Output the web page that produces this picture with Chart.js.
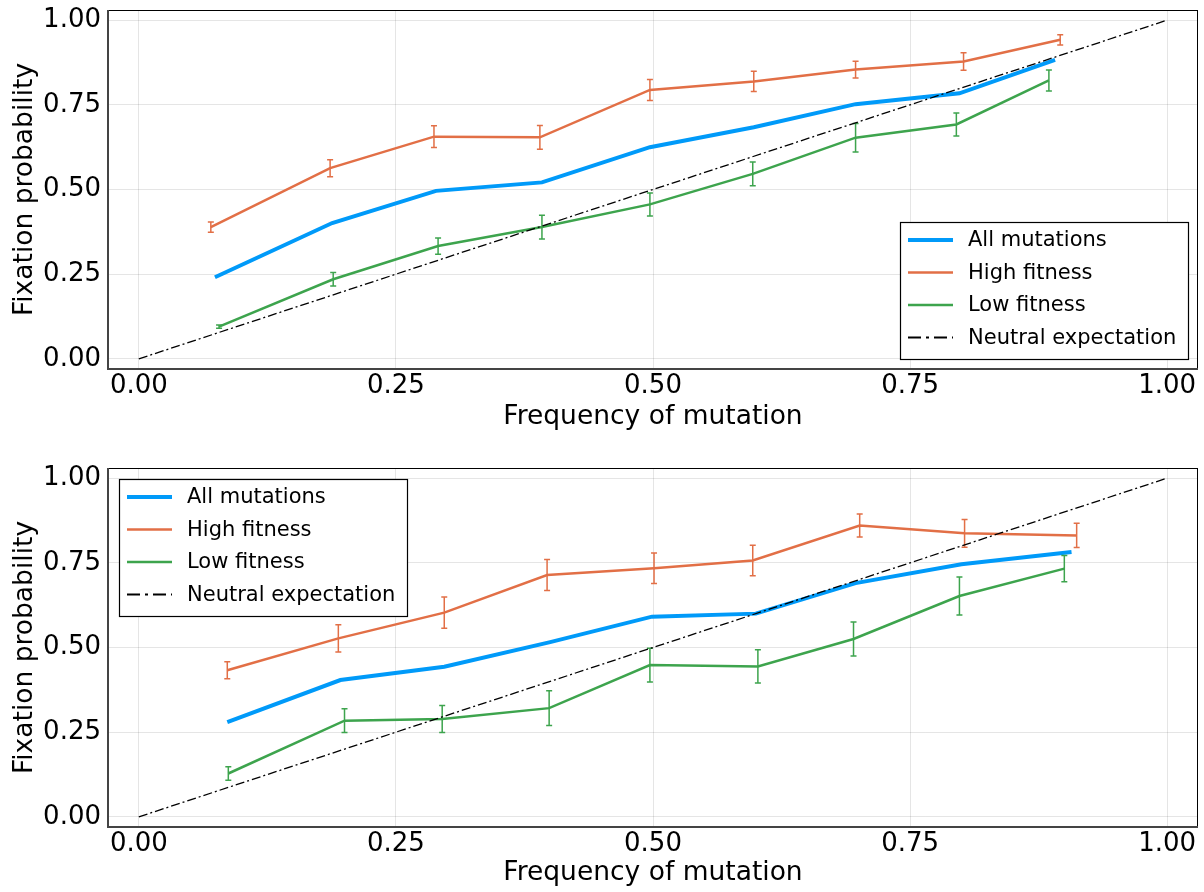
<!DOCTYPE html>
<html>
<head>
<meta charset="utf-8">
<script src="https://cdn.jsdelivr.net/npm/chart.js@4"></script>
<style>
  body { margin: 0; background: #fff; }
  canvas { display: block; }
</style>
</head>
<body>
<canvas id="topChart" width="1204" height="446"></canvas>
<canvas id="bottomChart" width="1204" height="446"></canvas>
<script>
// tick positions / labels (both axes)
const tickValues = [0, 0.25, 0.5, 0.75, 1];
const tickLabels = ["0.00", "0.25", "0.50", "0.75", "1.00"];

const seriesNames = ["All mutations", "High fitness", "Low fitness", "Neutral expectation"];
const neutralX = [0, 1];
const neutralY = [0, 1];

// top panel
const topAllX = [0.074, 0.188, 0.289, 0.392, 0.497, 0.598, 0.697, 0.798, 0.891];
const topAllY = [0.241, 0.401, 0.496, 0.521, 0.625, 0.684, 0.752, 0.784, 0.883];
const topHighX = [0.070, 0.186, 0.287, 0.390, 0.497, 0.598, 0.697, 0.802, 0.896];
const topHighY = [0.389, 0.563, 0.656, 0.654, 0.794, 0.819, 0.854, 0.878, 0.942];
const topHighErr = [0.015, 0.025, 0.032, 0.035, 0.031, 0.030, 0.025, 0.026, 0.015];
const topLowX = [0.078, 0.189, 0.291, 0.392, 0.497, 0.597, 0.697, 0.795, 0.885];
const topLowY = [0.095, 0.235, 0.333, 0.389, 0.456, 0.546, 0.653, 0.692, 0.822];
const topLowErr = [0.005, 0.020, 0.024, 0.035, 0.034, 0.035, 0.042, 0.034, 0.031];

// bottom panel
const botAllX = [0.086, 0.196, 0.297, 0.400, 0.499, 0.600, 0.697, 0.800, 0.907];
const botAllY = [0.280, 0.404, 0.443, 0.516, 0.591, 0.600, 0.690, 0.746, 0.782];
const botHighX = [0.086, 0.194, 0.297, 0.397, 0.501, 0.597, 0.701, 0.803, 0.912];
const botHighY = [0.433, 0.527, 0.603, 0.714, 0.734, 0.757, 0.860, 0.837, 0.831];
const botHighErr = [0.025, 0.040, 0.046, 0.046, 0.045, 0.045, 0.034, 0.041, 0.036];
const botLowX = [0.087, 0.200, 0.295, 0.399, 0.497, 0.602, 0.695, 0.798, 0.900];
const botLowY = [0.128, 0.284, 0.289, 0.321, 0.448, 0.444, 0.525, 0.652, 0.733];
const botLowErr = [0.020, 0.035, 0.040, 0.051, 0.050, 0.049, 0.050, 0.056, 0.039];

const BLUE = "#009af9";
const ORANGE = "#e26f46";
const GREEN = "#3da44d";
const FONT = "'DejaVu Sans', sans-serif";

const toPoints = (xs, ys) => xs.map((x, i) => ({ x: x, y: ys[i] }));

// error bars, drawn right after their own line
const errorBars = {
  id: "errorBars",
  afterDatasetDraw(chart, args) {
    const ds = chart.data.datasets[args.index];
    if (!ds.errors) return;
    const { ctx, scales } = chart;
    ctx.save();
    ctx.strokeStyle = ds.borderColor;
    ctx.lineWidth = 1.5;
    ds.data.forEach((p, i) => {
      const x = scales.x.getPixelForValue(p.x);
      const y1 = scales.y.getPixelForValue(p.y - ds.errors[i]);
      const y2 = scales.y.getPixelForValue(p.y + ds.errors[i]);
      ctx.beginPath();
      ctx.moveTo(x, y1); ctx.lineTo(x, y2);
      ctx.moveTo(x - 3, y1); ctx.lineTo(x + 3, y1);
      ctx.moveTo(x - 3, y2); ctx.lineTo(x + 3, y2);
      ctx.stroke();
    });
    ctx.restore();
  }
};

// frame around the plot area + boxed legend
const frameAndLegend = {
  id: "frameAndLegend",
  afterDraw(chart, args, opts) {
    const { ctx, chartArea: a } = chart;
    ctx.save();
    ctx.strokeStyle = "#000";
    ctx.lineWidth = 1;
    ctx.strokeRect(a.left + 0.5, a.top + 0.5, a.right - a.left - 1, a.bottom - a.top);
    ctx.strokeStyle = "#444";
    ctx.lineWidth = 2;
    ctx.beginPath();
    ctx.moveTo(a.left, a.top);
    ctx.lineTo(a.left, a.bottom);
    ctx.lineTo(a.right, a.bottom);
    ctx.stroke();

    const w = 288, h = 137;
    const lx = opts.corner === "br" ? a.right - 10 - w : a.left + 11;
    const ly = opts.corner === "br" ? a.bottom - 10 - h : a.top + 11;
    ctx.fillStyle = "#fff";
    ctx.fillRect(lx, ly, w, h);
    ctx.strokeStyle = "#000";
    ctx.lineWidth = 1.2;
    ctx.strokeRect(lx + 0.5, ly + 0.5, w, h);
    ctx.font = "21px " + FONT;
    ctx.textBaseline = "middle";
    chart.data.datasets.forEach((ds, i) => {
      const y = ly + 18 + i * 32.5;
      ctx.strokeStyle = ds.borderColor;
      ctx.lineWidth = ds.borderDash ? 2 : ds.borderWidth;
      ctx.setLineDash(ds.borderDash ? [13, 5, 3, 5] : []);
      ctx.beginPath();
      ctx.moveTo(lx + 8, y);
      ctx.lineTo(lx + 53, y);
      ctx.stroke();
      ctx.setLineDash([]);
      ctx.fillStyle = "#000";
      ctx.fillText(ds.label, lx + 68, y + 1);
    });
    ctx.restore();
  }
};

function makeChart(id, all, high, low, corner, padTop, xHeight, xTitlePad) {
  return new Chart(document.getElementById(id), {
    type: "line",
    data: {
      datasets: [
        { label: seriesNames[0], data: all, borderColor: BLUE, borderWidth: 4, order: 3 },
        { label: seriesNames[1], data: high.pts, errors: high.err, borderColor: ORANGE, borderWidth: 2.5, order: 2 },
        { label: seriesNames[2], data: low.pts, errors: low.err, borderColor: GREEN, borderWidth: 2.5, order: 1 },
        { label: seriesNames[3], data: toPoints(neutralX, neutralY), borderColor: "#000", borderWidth: 1.3,
          borderDash: [9, 3, 2, 3], order: 0 }
      ]
    },
    options: {
      responsive: false,
      animation: false,
      layout: { padding: { top: padTop, right: 6, left: 0, bottom: 0 } },
      elements: { point: { radius: 0 }, line: { tension: 0, fill: false } },
      plugins: { legend: { display: false }, tooltip: { enabled: false }, frameAndLegend: { corner: corner } },
      scales: {
        x: {
          type: "linear", min: -0.03, max: 1.03,
          afterBuildTicks: (s) => { s.ticks = tickValues.map((v) => ({ value: v })); },
          afterFit: (s) => { s.height = xHeight; s.paddingLeft = 0; s.paddingRight = 0; },
          ticks: { color: "#000", font: { family: FONT, size: 26 }, padding: 2,
                   maxRotation: 0, callback: (v) => tickLabels[tickValues.indexOf(v)] },
          grid: { color: "rgba(0,0,0,0.1)", drawTicks: false },
          border: { display: false },
          title: { display: true, text: "Frequency of mutation", color: "#000",
                   font: { family: FONT, size: 26.5 }, padding: { bottom: xTitlePad, top: 0 } }
        },
        y: {
          type: "linear", min: -0.03, max: 1.03,
          afterBuildTicks: (s) => { s.ticks = tickValues.map((v) => ({ value: v })); },
          afterFit: (s) => { s.width = 108; s.paddingTop = 0; s.paddingBottom = 0; },
          ticks: { color: "#000", font: { family: FONT, size: 26 }, padding: 7,
                   callback: (v) => tickLabels[tickValues.indexOf(v)] },
          grid: { color: "rgba(0,0,0,0.1)", drawTicks: false },
          border: { display: false },
          title: { display: true, text: "Fixation probability", color: "#000",
                   font: { family: FONT, size: 26.5 }, padding: { top: 9, bottom: 0 } }
        }
      }
    },
    plugins: [errorBars, frameAndLegend]
  });
}

makeChart("topChart",
  toPoints(topAllX, topAllY),
  { pts: toPoints(topHighX, topHighY), err: topHighErr },
  { pts: toPoints(topLowX, topLowY), err: topLowErr },
  "br", 10, 77, 13);

makeChart("bottomChart",
  toPoints(botAllX, botAllY),
  { pts: toPoints(botHighX, botHighY), err: botHighErr },
  { pts: toPoints(botLowX, botLowY), err: botLowErr },
  "tl", 22, 65, 3);
</script>
</body>
</html>
